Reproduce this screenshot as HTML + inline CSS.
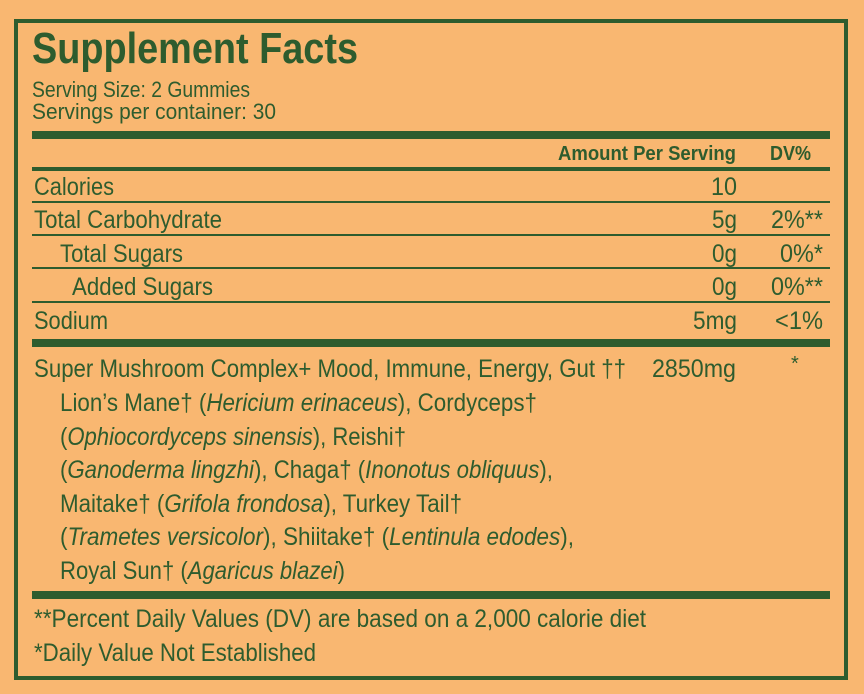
<!DOCTYPE html>
<html><head><meta charset="utf-8"><style>
html,body{margin:0;padding:0;background:#F9B771;}
svg{display:block}
text{font-family:"Liberation Sans",sans-serif;fill:#2E5C2E;}
</style></head><body>
<svg width="864" height="694" viewBox="0 0 864 694" xmlns="http://www.w3.org/2000/svg">
<rect width="864" height="694" fill="#F9B771"/>
<rect x="16" y="21" width="830" height="657" fill="none" stroke="#2E5C2E" stroke-width="4"/>
<g fill="#2E5C2E">
<rect x="32" y="131" width="798" height="8"/>
<rect x="32" y="167" width="798" height="4"/>
<rect x="32" y="201" width="798" height="2"/>
<rect x="32" y="234" width="798" height="2"/>
<rect x="32" y="267" width="798" height="2"/>
<rect x="32" y="301" width="798" height="2"/>
<rect x="32" y="339" width="798" height="8"/>
<rect x="32" y="591" width="798" height="8"/>
</g>
<text x="32" y="63" font-size="44" font-weight="bold" textLength="326" lengthAdjust="spacingAndGlyphs">Supplement Facts</text>
<text x="32" y="97" font-size="22" textLength="218" lengthAdjust="spacingAndGlyphs">Serving Size: 2 Gummies</text>
<text x="32" y="119" font-size="22" textLength="244" lengthAdjust="spacingAndGlyphs">Servings per container: 30</text>
<text x="558" y="160" font-size="20" font-weight="bold" textLength="178" lengthAdjust="spacingAndGlyphs">Amount Per Serving</text>
<text x="770" y="160" font-size="20" font-weight="bold" textLength="41" lengthAdjust="spacingAndGlyphs">DV%</text>
<g font-size="25">
<text x="34" y="195" textLength="80" lengthAdjust="spacingAndGlyphs">Calories</text>
<text x="34" y="228" textLength="188" lengthAdjust="spacingAndGlyphs">Total Carbohydrate</text>
<text x="60" y="262" textLength="123" lengthAdjust="spacingAndGlyphs">Total Sugars</text>
<text x="72" y="295" textLength="141" lengthAdjust="spacingAndGlyphs">Added Sugars</text>
<text x="34" y="329" textLength="74" lengthAdjust="spacingAndGlyphs">Sodium</text>
<text x="711" y="195" textLength="26" lengthAdjust="spacingAndGlyphs">10</text>
<text x="712" y="228" textLength="25" lengthAdjust="spacingAndGlyphs">5g</text>
<text x="712" y="262" textLength="25" lengthAdjust="spacingAndGlyphs">0g</text>
<text x="712" y="295" textLength="25" lengthAdjust="spacingAndGlyphs">0g</text>
<text x="693" y="329" textLength="44" lengthAdjust="spacingAndGlyphs">5mg</text>
<text x="771" y="228" textLength="52" lengthAdjust="spacingAndGlyphs">2%**</text>
<text x="780" y="262" textLength="43" lengthAdjust="spacingAndGlyphs">0%*</text>
<text x="771" y="295" textLength="52" lengthAdjust="spacingAndGlyphs">0%**</text>
<text x="775" y="329" textLength="48" lengthAdjust="spacingAndGlyphs">&lt;1%</text>
<text x="34" y="377" textLength="592" lengthAdjust="spacingAndGlyphs">Super Mushroom Complex+ Mood, Immune, Energy, Gut ††</text>
<text x="652" y="377" textLength="84" lengthAdjust="spacingAndGlyphs">2850mg</text>
<text x="791" y="370" font-size="20">*</text>
<text x="60" y="411" textLength="477" lengthAdjust="spacingAndGlyphs">Lion’s Mane† (<tspan font-style="italic">Hericium erinaceus</tspan>), Cordyceps†</text>
<text x="60" y="445" textLength="346" lengthAdjust="spacingAndGlyphs">(<tspan font-style="italic">Ophiocordyceps sinensis</tspan>), Reishi†</text>
<text x="60" y="478" textLength="493" lengthAdjust="spacingAndGlyphs">(<tspan font-style="italic">Ganoderma lingzhi</tspan>), Chaga† (<tspan font-style="italic">Inonotus obliquus</tspan>),</text>
<text x="60" y="512" textLength="402" lengthAdjust="spacingAndGlyphs">Maitake† (<tspan font-style="italic">Grifola frondosa</tspan>), Turkey Tail†</text>
<text x="60" y="545" textLength="514" lengthAdjust="spacingAndGlyphs">(<tspan font-style="italic">Trametes versicolor</tspan>), Shiitake† (<tspan font-style="italic">Lentinula edodes</tspan>),</text>
<text x="60" y="579" textLength="285" lengthAdjust="spacingAndGlyphs">Royal Sun† (<tspan font-style="italic">Agaricus blazei</tspan>)</text>
<text x="34" y="627" textLength="612" lengthAdjust="spacingAndGlyphs">**Percent Daily Values (DV) are based on a 2,000 calorie diet</text>
<text x="34" y="661" textLength="282" lengthAdjust="spacingAndGlyphs">*Daily Value Not Established</text>
</g>
</svg>
</body></html>
